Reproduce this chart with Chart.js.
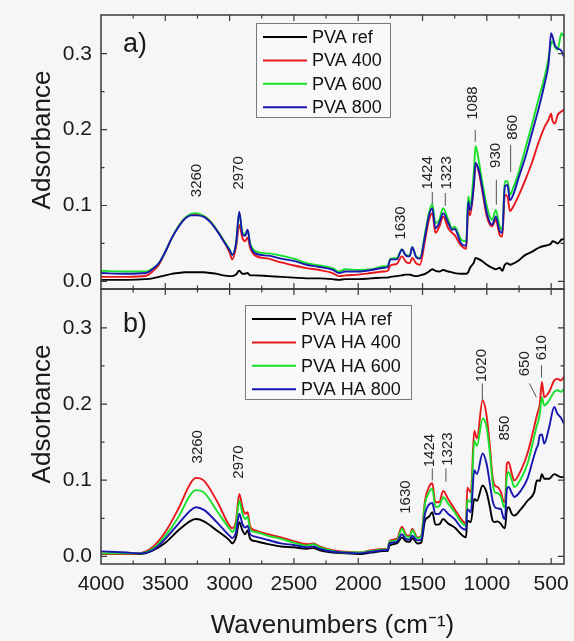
<!DOCTYPE html>
<html>
<head>
<meta charset="utf-8">
<title>FTIR spectra</title>
<script src="https://cdn.jsdelivr.net/npm/chart.js@4.4.1/dist/chart.umd.min.js"></script>
<style>
  html, body { margin: 0; padding: 0; background: #f6f6f6; }
  #wrap { position: relative; width: 574px; height: 641px; overflow: hidden; }
  #wrap canvas { position: absolute; left: 0; }
</style>
</head>
<body>
<div id="wrap">
  <canvas id="chartA" width="574" height="295" style="top:0"></canvas>
  <canvas id="chartB" width="574" height="357" style="top:284px"></canvas>
</div>
<script>
// Panel a) wavenumbers (cm-1) and absorbance of each sample
const WN_A = [4000, 3800, 3650, 3600, 3550, 3500, 3450, 3400, 3350, 3300,
  3260, 3200, 3150, 3100, 3050, 3000, 2980, 2950, 2925, 2900,
  2880, 2860, 2840, 2800, 2700, 2600, 2500, 2400, 2300, 2200,
  2150, 2100, 2000, 1900, 1800, 1770, 1750, 1700, 1660, 1630,
  1600, 1580, 1550, 1520, 1480, 1450, 1424, 1400, 1370, 1340,
  1300, 1270, 1250, 1200, 1160, 1145, 1130, 1100, 1088, 1060,
  1030, 1000, 960, 930, 900, 880, 860, 840, 820, 800,
  750, 700, 650, 600, 550, 520, 500, 490, 470, 450,
  420, 400];

const PVA_REF = [.002, .002, .003, .004, .006, .008, .010, .011, .012, .012,
  .012, .012, .011, .010, .008, .007, .007, .009, .014, .010,
  .010, .011, .008, .008, .007, .006, .005, .004, .004, .003,
  .002, .003, .003, .004, .005, .005, .006, .007, .008, .009,
  .009, .008, .007, .008, .010, .013, .016, .014, .013, .015,
  .013, .012, .011, .010, .010, .012, .018, .025, .031, .029,
  .026, .022, .018, .016, .018, .014, .022, .024, .022, .023,
  .028, .035, .039, .044, .047, .048, .050, .053, .052, .050,
  .055, .056];

const PVA_400 = [.006, .006, .0075, .013, .022, .039, .057, .072, .083, .088,
  .089, .086, .079, .068, .055, .038, .029, .045, .0745, .057,
  .053, .058, .044, .034, .030, .025, .021, .0175, .015, .011,
  .007, .008, .009, .011, .013, .014, .021, .023, .033, .026,
  .024, .031, .024, .022, .055, .081, .090, .064, .072, .0855,
  .070, .064, .061, .047, .043, .096, .087, .129, .156, .142,
  .114, .0855, .0725, .081, .061, .059, .114, .112, .0925, .097,
  .114, .134, .156, .182, .204, .213, .221, .212, .208, .219,
  .224, .226];

const PVA_600 = [.014, .013, .013, .017, .024, .039, .057, .072, .083, .089,
  .090, .086, .079, .068, .055, .042, .035, .050, .090, .064,
  .062, .067, .050, .040, .037, .034, .030, .024, .021, .0175,
  .013, .016, .015, .016, .020, .021, .030, .031, .042, .035,
  .034, .045, .033, .031, .064, .090, .102, .077, .081, .0965,
  .081, .070, .072, .055, .053, .112, .101, .147, .1785, .156,
  .125, .099, .081, .094, .072, .068, .132, .132, .114, .121,
  .145, .1755, .206, .239, .270, .294, .314, .316, .309, .305,
  .327, .322];

const PVA_800 = [.011, .010, .011, .016, .024, .039, .057, .071, .082, .087,
  .087, .085, .078, .067, .054, .041, .035, .050, .092, .062,
  .060, .068, .048, .037, .034, .030, .027, .022, .019, .0155,
  .011, .013, .013, .015, .018, .019, .029, .029, .042, .034,
  .033, .045, .032, .030, .060, .087, .0965, .070, .077, .090,
  .077, .068, .069, .050, .047, .105, .094, .129, .156, .145,
  .118, .090, .0745, .0855, .066, .064, .125, .127, .107, .112,
  .138, .164, .195, .226, .261, .287, .327, .323, .311, .307,
  .304, .296];

// Panel b) wavenumbers (cm-1) and absorbance of each sample
const WN_B = [4000, 3800, 3700, 3600, 3500, 3400, 3300, 3260, 3200, 3100,
  3000, 2980, 2950, 2925, 2900, 2880, 2860, 2840, 2800, 2700,
  2600, 2500, 2400, 2350, 2300, 2200, 2100, 2000, 1900, 1800,
  1770, 1758, 1700, 1660, 1630, 1600, 1580, 1540, 1510, 1481,
  1450, 1424, 1400, 1370, 1340, 1300, 1250, 1200, 1162, 1152,
  1124, 1098, 1077, 1033, 1002, 976, 955, 937, 916, 890,
  872, 859, 844, 831, 805, 787, 735, 684, 632, 611,
  601, 588, 572, 554, 515, 476, 450, 424, 400];

const HA_REF = [.003, .003, .003, .0075, .018, .034, .047, .049, .046, .034,
  .021, .017, .025, .045, .034, .029, .034, .023, .020, .016,
  .013, .012, .010, .011, .008, .005, .004, .003, .005, .007,
  .007, .014, .017, .025, .020, .019, .024, .017, .018, .047,
  .052, .058, .0417, .042, .049, .043, .038, .029, .025, .047,
  .045, .0754, .073, .093, .084, .0645, .047, .045, .046, .0425,
  .038, .037, .062, .0645, .0557, .0535, .062, .073, .084, .0996,
  .0996, .099, .108, .102, .102, .108, .106, .104, .104];

const HA_400 = [.003, .003, .004, .012, .032, .062, .097, .103, .0995, .073,
  .040, .037, .047, .082, .0645, .056, .058, .039, .034, .029,
  .025, .020, .016, .017, .013, .008, .006, .005, .008, .0096,
  .010, .020, .023, .039, .029, .027, .036, .025, .027, .073,
  .091, .096, .071, .071, .086, .075, .062, .049, .043, .090,
  .084, .165, .155, .205, .185, .144, .104, .093, .091, .084,
  .073, .071, .1215, .124, .108, .0996, .113, .135, .170, .185,
  .191, .200, .229, .209, .216, .231, .233, .231, .2355];

const HA_600 = [.004, .004, .004, .0096, .027, .051, .082, .087, .084, .060,
  .036, .032, .0425, .073, .056, .049, .052, .035, .032, .027,
  .023, .018, .014, .016, .012, .007, .005, .005, .007, .009,
  .009, .019, .021, .036, .027, .025, .034, .024, .026, .069,
  .084, .0886, .065, .066, .0776, .069, .058, .045, .040, .074,
  .071, .152, .145, .181, .170, .135, .097, .084, .083, .078,
  .067, .064, .106, .1105, .0996, .091, .102, .1215, .157, .172,
  .177, .187, .209, .198, .205, .216, .218, .216, .220];

const HA_800 = [.0066, .005, .004, .008, .023, .0425, .061, .0645, .061, .045,
  .027, .024, .032, .056, .0425, .038, .040, .029, .026, .0215,
  .017, .015, .012, .013, .010, .006, .005, .004, .006, .008,
  .008, .017, .019, .029, .023, .022, .027, .021, .022, .056,
  .068, .070, .0557, .056, .062, .0557, .049, .038, .035, .062,
  .058, .113, .108, .135, .1215, .095, .073, .0645, .063, .062,
  .051, .049, .0886, .091, .083, .078, .0864, .102, .1325, .143,
  .147, .159, .160, .148, .170, .196, .187, .182, .174];

const LABELS_A = ["PVA ref", "PVA 400", "PVA 600", "PVA 800"];
const LABELS_B = ["PVA HA ref", "PVA HA 400", "PVA HA 600", "PVA HA 800"];
const COLORS = ["#000000", "#e8171b", "#17e02a", "#1818b0"];

const X_TICK_VALUES = [4000, 3500, 3000, 2500, 2000, 1500, 1000, 500];
const Y_TICK_VALUES = [0, 0.1, 0.2, 0.3];
const Y_TITLE = "Adsorbance";

// Peak labels: text, wavenumber of text, absorbance of text start
const ANN_A_TEXT = ["3260", "2970", "1630", "1424", "1323", "1088", "930", "860"];
const ANN_A_WN = [3251, 2925, 1665, 1462, 1314, 1105, 926, 794];
const ANN_A_Y = [0.111, 0.121, 0.055, 0.121, 0.121, 0.213, 0.1495, 0.1865];
const LEAD_A = [[1424, 0.118, 1424, 0.102], [1323, 0.1165, 1323, 0.0995],
  [1090, 0.1996, 1090, 0.184], [926, 0.134, 926, 0.101], [815, 0.180, 815, 0.144]];

const ANN_B_TEXT = ["3260", "2970", "1630", "1424", "1323", "1020", "850", "650", "610"];
const ANN_B_WN = [3243, 2925, 1626, 1442, 1305, 1035, 856, 708, 575];
const ANN_B_Y = [0.122, 0.102, 0.056, 0.117, 0.119, 0.2285, 0.152, 0.2365, 0.2575];
const LEAD_B = [[1424, 0.1155, 1424, 0.0996], [1318, 0.1155, 1318, 0.098],
  [1035, 0.227, 1035, 0.205], [669, 0.227, 615, 0.209], [575, 0.251, 575, 0.235]];

const FONT = "'Liberation Sans', Arial, sans-serif";
Chart.defaults.font.family = FONT;
Chart.defaults.color = "#1a1a1a";

// frame box with inward ticks, axis title, panel letter, peak labels, legend
const decorPlugin = {
  id: "decor",
  afterDraw(chart) {
    const { ctx, chartArea: a, scales: { x, y } } = chart;
    const o = chart.options.plugins.decor;
    ctx.save();

    ctx.strokeStyle = "#3a3a3a";
    ctx.lineWidth = 1.5;
    ctx.strokeRect(a.left, a.top, a.right - a.left, a.bottom - a.top);

    ctx.lineWidth = 1.2;
    ctx.beginPath();
    for (let v = 500; v < 4000; v += 250) {
      const len = v % 500 === 0 ? 6 : 3.5;
      const px = x.getPixelForValue(v);
      ctx.moveTo(px, a.top); ctx.lineTo(px, a.top + len);
      ctx.moveTo(px, a.bottom); ctx.lineTo(px, a.bottom - len);
    }
    for (let k = 0; k <= 6; k++) {
      const v = k * 0.05;
      const len = k % 2 === 0 ? 6 : 3.5;
      const py = y.getPixelForValue(v);
      ctx.moveTo(a.left, py); ctx.lineTo(a.left + len, py);
      ctx.moveTo(a.right, py); ctx.lineTo(a.right - len, py);
    }
    ctx.stroke();

    // y axis title, sits a little above the panel centre
    ctx.fillStyle = "#1a1a1a";
    ctx.font = "26px " + FONT;
    ctx.save();
    ctx.translate(43, a.top + 125);
    ctx.rotate(-Math.PI / 2);
    ctx.textAlign = "center";
    ctx.textBaseline = "middle";
    ctx.fillText(Y_TITLE, 0, 0);
    ctx.restore();

    // panel letter
    ctx.font = "27px " + FONT;
    ctx.textAlign = "left";
    ctx.textBaseline = "middle";
    ctx.fillText(o.letter, a.left + 22, a.top + o.letterDy);

    // peak labels
    ctx.font = "15px " + FONT;
    ctx.fillStyle = "#222";
    o.texts.forEach((t, i) => {
      const px = x.getPixelForValue(o.wns[i]);
      const py = y.getPixelForValue(o.ys[i]);
      ctx.save();
      ctx.translate(px, py);
      ctx.rotate(-Math.PI / 2);
      ctx.textAlign = "left";
      ctx.textBaseline = "middle";
      ctx.fillText(t, 0, 0);
      ctx.restore();
    });
    ctx.strokeStyle = "#555";
    ctx.lineWidth = 1;
    ctx.beginPath();
    o.leads.forEach(l => {
      ctx.moveTo(x.getPixelForValue(l[0]), y.getPixelForValue(l[1]));
      ctx.lineTo(x.getPixelForValue(l[2]), y.getPixelForValue(l[3]));
    });
    ctx.stroke();

    // legend
    const L = o.legend;
    const bx = a.left + L.left, by = a.top + L.top;
    ctx.fillStyle = "#f9f9f9";
    ctx.fillRect(bx, by, L.width, L.height);
    ctx.strokeStyle = "#7a7a7a";
    ctx.lineWidth = 1;
    ctx.strokeRect(bx + 0.5, by + 0.5, L.width, L.height);
    ctx.font = "18px " + FONT;
    ctx.textBaseline = "middle";
    chart.data.datasets.forEach((ds, i) => {
      const ry = by + 14 + i * 23.4;
      ctx.strokeStyle = ds.borderColor;
      ctx.lineWidth = 2;
      ctx.beginPath();
      ctx.moveTo(bx + 7, ry); ctx.lineTo(bx + 51, ry);
      ctx.stroke();
      ctx.fillStyle = "#111";
      ctx.fillText(ds.label, bx + 56, ry + 1);
    });
    ctx.restore();
  }
};

function makeDatasets(wn, series, labels) {
  return series.map((vals, i) => ({
    label: labels[i],
    data: wn.map((w, j) => ({ x: w, y: vals[j] })),
    borderColor: COLORS[i],
    borderWidth: 1.9,
    pointRadius: 0,
    cubicInterpolationMode: "monotone",
    order: series.length - i
  }));
}

function makeChart(id, wn, series, labels, showX, padding, decor) {
  return new Chart(document.getElementById(id), {
    type: "line",
    data: { datasets: makeDatasets(wn, series, labels) },
    plugins: [decorPlugin],
    options: {
      responsive: false,
      animation: false,
      layout: { padding },
      scales: {
        x: {
          type: "linear",
          min: 400,
          max: 4000,
          reverse: true,
          display: showX,
          afterBuildTicks: s => { s.ticks = X_TICK_VALUES.map(v => ({ value: v })); },
          afterFit: s => {
            if (showX) s.height = 77;
            s.paddingLeft = 0; s.paddingRight = 0;
          },
          grid: { display: false, drawTicks: false },
          border: { display: false },
          ticks: { padding: 8, font: { size: 21 }, color: "#1a1a1a", callback: v => String(v) },
          title: {
            display: true,
            text: "Wavenumbers (cm\u207B\u00B9)",
            font: { size: 26 },
            color: "#1a1a1a",
            padding: { top: 0, bottom: 0 }
          }
        },
        y: {
          min: -0.01,
          max: 0.351,
          afterBuildTicks: s => { s.ticks = Y_TICK_VALUES.map(v => ({ value: v })); },
          afterFit: s => {
            s.width = 101;
            s.paddingTop = 0; s.paddingBottom = 0;
          },
          grid: { display: false, drawTicks: false },
          border: { display: false },
          ticks: { padding: 9, font: { size: 21 }, color: "#1a1a1a", callback: v => v.toFixed(1) },
          title: { display: false }
        }
      },
      plugins: {
        legend: { display: false },
        tooltip: { enabled: false },
        decor
      }
    }
  });
}

makeChart("chartA", WN_A, [PVA_REF, PVA_400, PVA_600, PVA_800], LABELS_A, false,
  { left: 0, top: 15, right: 10, bottom: 6 },
  { letter: "a)", letterDy: 30, texts: ANN_A_TEXT, wns: ANN_A_WN, ys: ANN_A_Y, leads: LEAD_A,
    legend: { left: 155, top: 8, width: 134, height: 94 } });

makeChart("chartB", WN_B, [HA_REF, HA_400, HA_600, HA_800], LABELS_B, true,
  { left: 0, top: 5, right: 10, bottom: 0 },
  { letter: "b)", letterDy: 36, texts: ANN_B_TEXT, wns: ANN_B_WN, ys: ANN_B_Y, leads: LEAD_B,
    legend: { left: 144, top: 16, width: 166, height: 94 } });
</script>
</body>
</html>
